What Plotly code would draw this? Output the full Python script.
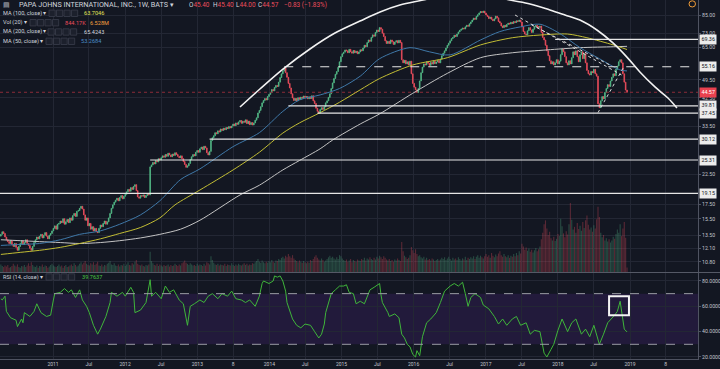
import numpy as np
import pandas as pd
import plotly.graph_objects as go

# ---------------- data ----------------
START = "2010-04-12"          # first weekly bar
FIRST_OPEN = 13.4

close = [
 13.6, 13.9, 13.7, 13.3, 13.0, 12.8, 12.6, 12.9, 12.5, 12.3, 12.6, 12.2, 11.9,
 12.3, 12.6, 12.9, 12.5, 12.7, 13.0, 12.6, 12.4, 12.1, 11.9,
 12.3, 12.7, 13.0, 13.3, 13.1, 13.4,
 13.6, 13.2, 13.5, 13.8, 13.4, 13.1, 13.5, 13.7,
 14.0, 14.3, 14.6, 14.2, 14.8, 14.9, 15.2,
 15.0, 15.5, 14.8, 15.1, 15.4, 15.0, 15.6,
 15.3, 15.9, 16.2, 15.8, 16.5, 16.6, 16.9, 17.2, 16.8,
 16.0, 15.3, 15.6, 14.6, 14.9, 14.2, 14.5, 14.0, 14.3, 13.9, 13.8,
 14.3, 14.7, 14.5, 14.9, 15.2, 14.8, 15.1, 15.6,
 16.2, 16.9, 17.4, 17.8, 18.1, 18.4,
 18.0, 18.5, 18.8, 18.3, 18.7, 19.0, 19.4,
 19.8, 19.5, 20.1, 19.8, 20.3, 20.6,
 19.6, 18.6, 18.4, 18.8,
 18.7, 18.9, 18.5, 18.8, 19.1, 18.9,
 23.9,
 24.3, 24.8, 24.5, 25.2, 24.9, 25.6, 25.3,
 25.8, 26.2, 25.9, 26.5, 26.1, 26.8, 26.4, 26.0, 26.6, 26.3, 26.9, 26.5, 26.1, 25.8, 26.2, 25.6,
 25.0, 24.4, 23.8, 24.1, 24.6,
 25.4, 26.0, 26.5, 26.2, 27.0, 27.4, 27.0, 27.8, 28.2, 27.6, 28.4, 28.0,
 26.9, 26.4, 27.2,
 29.8, 30.5,
 31.0, 31.8, 31.5, 32.3, 32.0, 32.8, 32.4, 33.0, 32.6, 33.2, 32.9, 33.5, 33.1,
 33.6, 34.2, 33.7, 34.5, 34.1, 34.8, 35.2, 34.4, 35.0, 34.7, 35.4,
 34.3, 35.0, 34.0, 34.6, 33.9, 34.5, 35.3,
 36.0, 37.5, 38.3, 39.5,
 40.8, 41.6, 42.3, 41.8, 43.0, 43.8, 44.5,
 45.6, 45.1, 46.4, 47.2, 46.8, 48.5,
 50.4, 52.0, 53.2, 54.6, 52.5,
 50.5, 48.0, 46.2, 44.0, 42.5, 41.6, 42.3,
 41.5, 42.6, 42.0, 42.8, 42.4, 43.2, 42.7, 43.0, 42.2, 42.9, 42.3,
 43.3, 41.5, 40.6, 39.0,
 38.0, 37.4, 38.6,
 39.2, 38.6, 39.5, 40.8, 41.5, 42.7, 44.0,
 46.0, 48.2, 50.0, 51.8, 53.0, 54.9,
 57.5, 60.0, 61.5, 62.3, 63.5,
 63.0, 62.0, 63.8, 62.5, 61.8, 63.2, 62.0, 62.8, 61.5, 62.4, 63.6,
 63.0, 64.5, 66.0, 65.2, 67.5, 69.0, 68.2, 70.5,
 72.0, 71.2, 73.5, 75.0, 74.0, 76.5,
 75.5, 73.0, 71.0, 68.5, 67.0,
 68.2, 67.0, 69.0, 68.0, 66.5, 67.8, 68.6, 67.3, 68.8, 67.5,
 58.5,
 57.0, 58.2, 56.5, 57.5, 56.0, 57.8,
 52.0, 48.0, 46.5, 45.5, 44.5, 46.0,
 49.0, 52.5, 55.0, 56.5,
 56.0, 57.5, 56.8, 55.8, 57.2, 56.4, 57.8, 56.6, 57.4, 58.2, 57.0,
 58.8, 60.5, 61.8, 63.0, 64.5, 66.0, 67.2,
 68.5, 69.8, 70.5, 71.8, 71.0, 72.5, 73.8, 74.8,
 75.5, 76.2, 75.6, 77.0, 78.0, 77.4, 79.0,
 80.2, 81.5, 82.8, 82.0, 84.0, 85.2,
 86.5, 87.5, 86.8, 87.8, 86.4,
 85.0, 84.0, 82.5, 83.5, 82.0, 81.0, 82.3,
 84.2, 83.0, 80.5, 79.5,
 77.5, 76.5, 78.0, 77.0,
 78.5, 79.4, 78.8, 80.0, 79.2, 80.5, 79.8, 81.0, 80.5, 81.5, 80.2,
 77.0, 74.0, 72.5, 72.0,
 74.5, 76.5, 75.0, 73.5,
 75.5, 77.0, 78.0, 77.2, 76.5, 77.5,
 73.5, 70.5, 69.0,
 66.0, 63.0, 60.5,
 58.0, 56.5, 57.5, 56.0,
 57.0, 58.5, 56.5, 57.8,
 61.0, 64.0, 62.5,
 60.0, 57.0, 56.0, 58.0, 56.5,
 59.5, 62.5, 61.0, 63.0,
 60.0, 57.5, 61.0,
 62.5, 59.0, 61.5, 57.0,
 53.5, 52.0, 51.5, 53.0,
 52.5, 54.0, 52.0, 51.0,
 40.5, 39.2,
 41.5, 43.0, 42.2, 44.5,
 46.0, 47.5, 46.8, 49.0, 50.5,
 52.0, 51.2, 54.0, 55.5,
 57.5, 58.5, 57.0,
 52.0, 48.5, 45.4, 44.57,
]

# weekly volume, in hundreds of thousands of shares
volume = [
 14, 11, 9, 12, 10, 13, 8, 9, 11, 15, 12, 10, 14, 9, 8, 11, 10, 13, 9, 12,
 16, 11, 18, 13, 10, 9, 12, 8, 11, 10, 14, 9, 12, 11, 8, 10, 13, 15, 12, 10,
 9, 11, 14, 10, 12, 8, 11, 13, 9, 10, 12, 14, 11, 16, 13, 10, 12, 15, 18, 14,
 17, 20, 15, 13, 12, 16, 14, 18, 13, 15, 19, 12, 11, 14, 10, 13, 12, 15, 17, 20,
 14, 13, 16, 12, 11, 14, 10, 13, 12, 15, 11, 14, 18, 13, 12, 16, 14, 19, 22, 15,
 13, 12, 14, 11, 10, 13, 12, 14, 37, 20, 16, 13, 12, 15, 11, 14, 12, 10, 13, 11,
 12, 14, 10, 13, 11, 12, 15, 13, 11, 14, 12, 16, 18, 21, 17, 15, 13, 16, 14, 12,
 13, 11, 15, 12, 14, 13, 11, 15, 12, 18, 16, 14, 29, 22, 17, 14, 13, 15, 12, 14,
 13, 12, 15, 11, 14, 13, 12, 16, 13, 11, 14, 12, 15, 13, 12, 14, 16, 13, 15, 12,
 14, 13, 16, 15, 18, 20, 24, 19, 17, 21, 18, 16, 19, 17, 20, 18, 22, 19, 17, 21,
 20, 24, 22, 26, 28, 25, 30, 27, 33, 29, 26, 31, 25, 22, 20, 18, 21, 19, 17, 20,
 18, 16, 19, 17, 22, 20, 24, 28, 31, 26, 23, 21, 25, 22, 19, 21, 24, 27, 30, 26,
 28, 25, 23, 27, 24, 31, 29, 25, 22, 20, 23, 19, 21, 24, 18, 22, 20, 19, 23, 21,
 20, 24, 22, 26, 21, 25, 23, 27, 24, 22, 26, 23, 28, 25, 30, 27, 24, 29, 26, 23,
 21, 24, 20, 22, 19, 23, 21, 25, 22, 20, 55, 38, 30, 27, 24, 26, 31, 46, 40, 35,
 42, 33, 29, 31, 27, 25, 28, 23, 26, 22, 24, 21, 25, 23, 20, 22, 24, 21, 23, 26,
 24, 27, 22, 25, 28, 24, 21, 26, 23, 25, 22, 27, 24, 21, 25, 23, 28, 22, 26, 24,
 27, 25, 29, 24, 28, 31, 26, 30, 27, 25, 29, 33, 28, 31, 26, 35, 30, 27, 32, 29,
 34, 38, 31, 28, 33, 29, 27, 31, 26, 30, 28, 33, 29, 35, 31, 38, 34, 52, 47, 41,
 45, 39, 43, 37, 41, 36, 40, 44, 38, 42, 47, 60, 72, 88, 95, 80, 68, 74, 62, 58,
 65, 57, 61, 70, 66, 98, 84, 71, 64, 75, 69, 88, 127, 96, 78, 83, 72, 90, 79, 85,
 76, 92, 81, 95, 104, 87, 78, 82, 74, 86, 80, 97, 120, 101,
 72, 64, 68, 58, 62, 56, 60, 54, 58, 65, 61, 70, 78, 72, 88, 66, 80, 92, 63, 8.44,
]

# moving averages (week index from START, value)
ma50_wk = [0, 14, 28, 43, 57, 72, 86, 101, 115, 130, 144, 168, 187, 204, 216, 231, 245,
           260, 274, 296, 310, 325, 347, 361, 376, 390, 404, 419, 433, 448, 453]
ma50 = [12.4, 12.5, 12.6, 13.0, 13.6, 14.0, 14.8, 16.0, 18.0, 21.5, 23.5, 28.3, 31.8, 38.0,
        41.8, 43.6, 46.0, 51.0, 59.0, 64.7, 62.5, 60.9, 69.0, 74.0, 77.0, 78.7, 73.0, 64.7,
        59.0, 53.7, 53.27]

ma100_wk = [0, 14, 28, 43, 57, 72, 86, 101, 115, 126, 144, 168, 187, 204, 216, 231, 245,
            260, 274, 298, 323, 347, 370, 390, 410, 424, 443, 453]
ma100 = [11.5, 11.7, 11.9, 12.2, 12.6, 13.1, 13.7, 14.4, 15.6, 17.4, 19.7, 23.3, 27.0, 31.7,
         34.5, 37.6, 41.0, 45.5, 50.0, 56.0, 59.5, 66.2, 70.3, 71.9, 72.5, 70.3, 66.2, 63.70]

ma200_wk = [0, 14, 28, 43, 57, 72, 86, 101, 115, 130, 144, 173, 187, 204, 216, 231, 240,
            260, 274, 298, 323, 347, 370, 395, 419, 443, 453]
ma200 = [13.0, 12.9, 12.8, 12.7, 12.6, 12.7, 12.9, 13.2, 13.6, 14.2, 15.3, 18.9, 20.5, 23.3,
         25.2, 27.8, 29.9, 34.2, 37.2, 44.2, 52.2, 59.5, 62.0, 63.5, 64.7, 65.2, 65.42]

rsi_wk = [0, 1, 3, 4, 7, 11, 12, 15, 16, 17, 21, 24, 26, 29, 33, 36, 38, 39, 43, 46, 49, 51,
          54, 57, 59, 62, 64, 67, 70, 72, 76, 79, 80, 84, 88, 90, 94, 96, 97, 101, 105, 108,
          109, 112, 116, 119, 122, 125, 129, 132, 135, 137, 140, 144, 147, 150, 153, 157,
          160, 164, 167, 170, 174, 177, 180, 184, 187, 189, 190, 194, 197, 198, 200, 202,
          204, 206, 207, 211, 214, 217, 220, 224, 227, 229, 230, 232, 234, 235, 239, 242,
          245, 248, 250, 252, 255, 257, 260, 263, 267, 270, 274, 275, 276, 280, 281, 285,
          288, 290, 292, 294, 296, 298, 300, 301, 303, 305, 308, 311, 315, 318, 321, 325,
          328, 331, 334, 336, 338, 340, 343, 347, 349, 353, 357, 360, 363, 366, 370, 373,
          376, 380, 383, 386, 390, 393, 395, 398, 400, 403, 406, 410, 413, 416, 420, 423,
          426, 429, 433, 436, 439, 444, 446, 448, 449, 451, 453]
rsi = [66, 65, 68, 56, 51, 49, 44, 50, 47, 55, 52, 56, 62, 55, 52, 53, 65, 70, 71, 74, 71, 73,
       67, 73, 65, 60, 55, 45, 38, 42, 52, 63, 71, 68, 71, 68, 75, 71, 55, 57, 63, 81,
       68, 71, 66, 76, 71, 73, 65, 62, 45, 60, 62, 65, 63, 68, 70, 66,
       70, 68, 72, 66, 65, 63, 65, 60, 68, 78, 80, 78, 80, 84, 83, 84,
       80, 72, 63, 50, 45, 43, 46, 45, 40, 37, 35, 38, 46, 55, 70, 73,
       76, 76, 77, 71, 70, 62, 64, 62, 73, 75, 78, 69, 63, 55, 52, 54,
       51, 38, 35, 30, 28, 22, 20, 25, 21, 36, 47, 50, 55, 63, 72, 76,
       78, 76, 79, 70, 60, 67, 70, 67, 61, 58, 52, 46, 50, 45, 50, 52,
       45, 47, 38, 41, 40, 23, 20, 26, 30, 41, 50, 40, 47, 50, 38, 42,
       36, 45, 30, 38, 47, 53, 56, 64, 57, 42, 39.7637]

# drawn horizontal levels (price, first week)
levels = [19.15, 25.31, 30.12, 37.45, 39.81, 69.36]
levels_wk = [-6, 108, 151, 229, 208, 401]
dashed_level, dashed_level_wk = 55.16, 205
last_price = 44.57

# drawn arc and trend lines (week index, price)
arc_wk = [173.0, 187.4, 204.1, 223.6, 241.7, 259.8, 274.3, 288.7, 305.4, 324.9, 339.4, 353.8,
          368.3, 382.8, 397.2, 408.1, 418.9, 431.2, 442.8, 452.9, 462.3, 473.2, 482.6, 489.1]
arc_price = [39.4, 45.8, 54.1, 64.0, 73.1, 80.8, 87.2, 92.4, 96.3, 101.3, 102.2, 100.5,
             96.3, 93.2, 88.6, 85.0, 81.5, 75.0, 67.3, 59.8, 52.8, 46.6, 42.5, 39.1]
trend_wk = [[372, 449], [384, 442], [432, 451]]
trend_price = [[85.0, 51.5], [78.2, 55.5], [37.6, 55.5]]
rsi_box_wk = [440.0, 454.4]
rsi_box_val = [53.0, 68.0]

x_tick_dates = ["2011-01-01", "2011-07-01", "2012-01-01", "2012-07-01", "2013-01-01",
                "2013-07-01", "2014-01-01", "2014-07-01", "2015-01-01", "2015-07-01",
                "2016-01-01", "2016-07-01", "2017-01-01", "2017-07-01", "2018-01-01",
                "2018-07-01", "2019-01-01", "2019-07-01"]
x_tick_text = ["2011", "Jul", "2012", "Jul", "2013", "8", "2014", "Jul", "2015", "Jul",
               "2016", "Jul", "2017", "Jul", "2018", "Jul", "2019", "8"]
price_ticks = [85, 73, 65, 49.5, 42.5, 33.5, 22.5, 17.5, 15.5, 13.5, 12.1, 10.8]
rsi_ticks = [20, 40, 60, 80]

# ---------------- styling ----------------
W, H = 720, 369
ML, MR, MT, MB = 0, 22, 0, 10
PW, PH = W - ML - MR, H - MT - MB
UP, DN = "#53b987", "#eb4d5c"
BG, GRID, AXC, TXT = "#131722", "#232734", "#4f5361", "#c3c6ce"
FONT = "Roboto"
PRICE_BOTTOM = 1 - 272 / PH
RSI_TOP = 1 - 273 / PH

dates = pd.date_range(START, periods=len(close), freq="7D")
opens = [FIRST_OPEN] + close[:-1]
highs = [max(o, c) for o, c in zip(opens, close)]
lows = [min(o, c) for o, c in zip(opens, close)]


def wk2date(w):
    return pd.Timestamp(START) + pd.to_timedelta(np.asarray(w, dtype=float) * 7, unit="D")


PX_PER_DAY = 577 / 2922
ref = pd.Timestamp("2011-01-01")
X0 = ref - pd.Timedelta(days=53 / PX_PER_DAY)
X1 = ref + pd.Timedelta(days=645 / PX_PER_DAY)

fig = go.Figure()

vol = volume[:len(close)]
vcol = ["rgba(83,185,135,0.32)" if c >= o else "rgba(235,77,92,0.32)"
        for o, c in zip(opens[:len(vol)], close[:len(vol)])]
fig.add_trace(go.Bar(x=dates[:len(vol)], y=vol, marker=dict(color=vcol, line=dict(width=0)),
                     xaxis="x", yaxis="y", hoverinfo="skip"))

# current price line
fig.add_trace(go.Scatter(x=[X0, X1], y=[last_price, last_price], mode="lines",
                         line=dict(color="#8a2c38", width=1, dash="dot"),
                         xaxis="x", yaxis="y3", hoverinfo="skip"))

for wk, val, col in [(ma200_wk, ma200, "#c4c4c4"), (ma100_wk, ma100, "#c2bd34"),
                     (ma50_wk, ma50, "#3f78a8")]:
    fig.add_trace(go.Scatter(x=wk2date(wk), y=val, mode="lines",
                             line=dict(color=col, width=1, shape="spline", smoothing=0.8),
                             xaxis="x", yaxis="y3", hoverinfo="skip"))

fig.add_trace(go.Candlestick(x=dates, open=opens, high=highs, low=lows, close=close,
                             increasing=dict(line=dict(color=UP, width=0.8), fillcolor=UP),
                             decreasing=dict(line=dict(color=DN, width=0.8), fillcolor=DN),
                             whiskerwidth=0, xaxis="x", yaxis="y3", hoverinfo="skip"))

for v, w in zip(levels, levels_wk):
    fig.add_trace(go.Scatter(x=[wk2date([w])[0], X1], y=[v, v], mode="lines",
                             line=dict(color="#e6e6e6", width=1.2),
                             xaxis="x", yaxis="y3", hoverinfo="skip"))
fig.add_trace(go.Scatter(x=[wk2date([dashed_level_wk])[0], X1], y=[dashed_level] * 2,
                         mode="lines", line=dict(color="#e6e6e6", width=1.2, dash="dash"),
                         xaxis="x", yaxis="y3", hoverinfo="skip"))

fig.add_trace(go.Scatter(x=wk2date(arc_wk), y=arc_price, mode="lines",
                         line=dict(color="#f2f2f2", width=1.6, shape="spline", smoothing=1.0),
                         xaxis="x", yaxis="y3", hoverinfo="skip"))
for wk, pr in zip(trend_wk, trend_price):
    fig.add_trace(go.Scatter(x=wk2date(wk), y=pr, mode="lines",
                             line=dict(color="#d8d8d8", width=1, dash="dot"),
                             xaxis="x", yaxis="y3", hoverinfo="skip"))

fig.add_trace(go.Scatter(x=wk2date(rsi_wk), y=rsi, mode="lines",
                         line=dict(color="#3fb53a", width=1),
                         xaxis="x", yaxis="y2", hoverinfo="skip"))

shapes = [
    dict(type="rect", xref="paper", yref="y2", x0=0, x1=1, y0=30, y1=70,
         fillcolor="#221a3b", line=dict(width=0), layer="below"),
    dict(type="line", xref="paper", yref="y2", x0=0, x1=1, y0=70, y1=70,
         line=dict(color="#9a9ca5", width=1, dash="dash")),
    dict(type="line", xref="paper", yref="y2", x0=0, x1=1, y0=30, y1=30,
         line=dict(color="#9a9ca5", width=1, dash="dash")),
    dict(type="rect", xref="x", yref="y2", x0=wk2date([rsi_box_wk[0]])[0],
         x1=wk2date([rsi_box_wk[1]])[0], y0=rsi_box_val[0], y1=rsi_box_val[1],
         line=dict(color="#f4f4f4", width=2)),
    dict(type="line", xref="paper", yref="paper", x0=0, x1=W / PW, y0=PRICE_BOTTOM - 0.0014,
         y1=PRICE_BOTTOM - 0.0014, line=dict(color="#555966", width=1)),
    dict(type="circle", xref="paper", yref="paper", x0=689 / PW, x1=695.5 / PW,
         y0=1 - 7 / PH, y1=1 - 0.8 / PH, line=dict(color="#f29d38", width=1)),
]


def px(xp, yp):
    return xp / PW, 1 - yp / PH


# legend control boxes
for xs, yc in [(49, 13.3), (30, 22.7), (48, 32), (46, 41.3), (46, 277)]:
    for k in range(4):
        x0p, y0p = px(xs + k * 7.5, yc + 3.2)
        x1p, y1p = px(xs + k * 7.5 + 6.2, yc - 3.2)
        shapes.append(dict(type="rect", xref="paper", yref="paper", x0=x0p, x1=x1p,
                           y0=y0p, y1=y1p, fillcolor="#1c202c",
                           line=dict(color="#3a3e4b", width=0.8)))

annotations = []


def ann(xp, yp, text, color, size):
    xx, yy = px(xp, yp)
    annotations.append(dict(x=xx, y=yy, xref="paper", yref="paper", text=text,
                            showarrow=False, xanchor="left", yanchor="middle",
                            font=dict(family=FONT, size=size, color=color)))


LEG = "#d1d4dc"
ann(0.5, 4.8, "▤", "#b2b5be", 7)
ann(17, 4.8, "PAPA JOHNS INTERNATIONAL, INC., 1W, BATS ▾", LEG, 7.2)
for xp, lab, val in [(187, "O", "45.40"), (211, "H", "45.40"), (234, "L", "44.00"),
                     (256, "C", "44.57")]:
    ann(xp, 4.8, f'<span style="color:{LEG}">{lab}</span>{val}', DN, 6.4)
ann(282, 4.8, "−0.83 (−1.83%)", DN, 6.4)

ann(1, 13.3, "MA (100, close) ▾", LEG, 5.6)
ann(81.5, 13.3, "63.7046", "#e3e35a", 5.6)
ann(1, 22.7, "Vol (20) ▾", LEG, 5.6)
ann(62.5, 22.7, "844.17K", DN, 5.6)
ann(88, 22.7, "6.528M", "#f5a03e", 5.6)
ann(1, 32, "MA (200, close) ▾", LEG, 5.6)
ann(81.5, 32, "65.4243", LEG, 5.6)
ann(1, 41.3, "MA (50, close) ▾", LEG, 5.6)
ann(79, 41.3, "53.2684", "#4a8cc6", 5.6)
ann(1, 277, "RSI (14, close) ▾", LEG, 5.6)
ann(79.5, 277, "39.7637", "#47c43f", 5.6)

for v in levels + [dashed_level]:
    annotations.append(dict(x=1, xref="paper", y=np.log10(v), yref="y3", xanchor="left",
                            yanchor="middle", xshift=1, text=f"{v:.2f}", showarrow=False,
                            bgcolor="#ececec", borderpad=1.4,
                            font=dict(family=FONT, size=5.4, color="#131722")))
annotations.append(dict(x=1, xref="paper", y=np.log10(last_price), yref="y3", xanchor="left",
                        yanchor="middle", xshift=1, text=f"{last_price:.2f}", showarrow=False,
                        bgcolor="#e8414f", borderpad=1.4,
                        font=dict(family=FONT, size=5.4, color="#ffffff")))

tickfont = dict(family=FONT, size=5.2, color=TXT)
fig.update_layout(
    width=W, height=H, margin=dict(l=ML, r=MR, t=MT, b=MB, pad=0, autoexpand=False),
    paper_bgcolor=BG, plot_bgcolor=BG, showlegend=False,
    bargap=0.2, boxgap=0.3,
    xaxis=dict(type="date", range=[X0, X1], anchor="y2", tickvals=x_tick_dates,
               ticktext=x_tick_text, showgrid=True, gridcolor=GRID, gridwidth=1,
               tickfont=dict(family=FONT, size=5, color=TXT), ticks="", showline=True,
               linecolor=AXC, zeroline=False, rangeslider=dict(visible=False),
               fixedrange=True, automargin=False),
    yaxis=dict(domain=[PRICE_BOTTOM, 1], range=[0, 500], visible=False, fixedrange=True,
               automargin=False),
    yaxis3=dict(type="log", overlaying="y", side="right", anchor="x",
                range=[np.log10(9.93), np.log10(96.35)], tickvals=price_ticks,
                ticktext=[f"{v:.2f}" for v in price_ticks], showgrid=True, gridcolor=GRID,
                tickfont=tickfont, ticks="outside", ticklen=2, tickcolor=AXC,
                showline=True, linecolor=AXC, zeroline=False, fixedrange=True,
                automargin=False),
    yaxis2=dict(domain=[0, RSI_TOP], range=[18.4, 86.3], side="right", anchor="x",
                tickvals=rsi_ticks, ticktext=[f"{v:.4f}" for v in rsi_ticks],
                showgrid=True, gridcolor=GRID, tickfont=tickfont, ticks="outside",
                ticklen=2, tickcolor=AXC, showline=True, linecolor=AXC, zeroline=False,
                fixedrange=True, automargin=False),
    shapes=shapes, annotations=annotations,
)

fig.write_html(
    "out.html",
    config={"displayModeBar": False, "staticPlot": True},
    post_script="document.body.style.margin='0px';document.body.style.padding='0px';"
                "document.body.style.overflow='hidden';",
)
